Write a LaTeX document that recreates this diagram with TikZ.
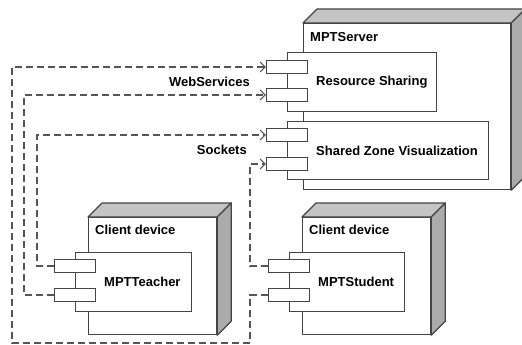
\documentclass[tikz,border=0pt]{standalone}
\usepackage{fontspec}
\setmainfont{Liberation Sans}
\usetikzlibrary{arrows.meta, calc}

\definecolor{edgegray}{HTML}{444444}
\definecolor{dashgray}{HTML}{555555}
\definecolor{topgray}{HTML}{C4C4C4}
\definecolor{sidegray}{HTML}{ABABAB}

\begin{document}
\begin{tikzpicture}[x=1pt, y=-1pt,
    device/.style={draw=edgegray, fill=white, line width=1.2pt, anchor=north west, inner sep=0pt},
    comp/.style={draw=edgegray, fill=white, line width=1.1pt, anchor=north west, inner sep=0pt},
    port/.style={draw=edgegray, fill=white, line width=1.1pt, minimum width=41pt, minimum height=13pt, inner sep=0pt},
    lbl/.style={font=\fontsize{13}{15}\selectfont\bfseries, inner sep=0pt},
    link/.style={draw=dashgray, line width=1.2pt, dash pattern=on 7pt off 4pt, -{Straight Barb[length=5pt, width=10pt]}}
]
    \useasboundingbox (0,0) rectangle (522,345);

    % Nodes (devices)
    \node[device, minimum width=207pt, minimum height=166pt] (server) at (303,23) {};
    \node[device, minimum width=128pt, minimum height=117pt] (teacherdev) at (88,217) {};
    \node[device, minimum width=128pt, minimum height=117pt] (studentdev) at (302,217) {};

    % 3D sides of the nodes
    \foreach \d in {server, teacherdev, studentdev} {
        \filldraw[fill=topgray, draw=edgegray, line width=1.2pt, line join=round]
            (\d.north west) -- ++(14,-14) -- ($(\d.north east)+(14,-14)$) -- (\d.north east) -- cycle;
        \filldraw[fill=sidegray, draw=edgegray, line width=1.2pt, line join=round]
            (\d.north east) -- ++(14,-14) -- ($(\d.south east)+(14,-14)$) -- (\d.south east) -- cycle;
    }

    \node[lbl, anchor=base west] (servername) at ($(server.north west)+(7,19)$) {MPTServer};
    \node[lbl, anchor=base west] (teachername) at ($(teacherdev.north west)+(7,17)$) {Client device};
    \node[lbl, anchor=base west] (studentname) at ($(studentdev.north west)+(7,17)$) {Client device};

    % Components
    \node[comp, minimum width=149pt, minimum height=59pt] (rs) at (287,52) {};
    \node[comp, minimum width=201pt, minimum height=58pt] (szv) at (287,121) {};
    \node[comp, minimum width=116pt, minimum height=59pt] (tcomp) at (75,252) {};
    \node[comp, minimum width=115pt, minimum height=59pt] (scomp) at (289,252) {};

    \node[lbl, anchor=west] (rslabel) at ($(rs.west)+(29,0)$) {Resource Sharing};
    \node[lbl, anchor=west] (szvlabel) at ($(szv.west)+(29,0)$) {Shared Zone Visualization};
    \node[lbl, anchor=west] (tlabel) at ($(tcomp.west)+(29,0)$) {MPTTeacher};
    \node[lbl, anchor=west] (slabel) at ($(scomp.west)+(29,0)$) {MPTStudent};

    % Ports
    \node[port] (rp1) at (287,67) {};
    \node[port] (rp2) at (287,95) {};
    \node[port] (zp1) at (287,135) {};
    \node[port] (zp2) at (287,164) {};
    \node[port] (tp1) at (75,266) {};
    \node[port] (tp2) at (75,295) {};
    \node[port] (sp1) at (289,266) {};
    \node[port] (sp2) at (289,295) {};

    \node[lbl, anchor=east] (wslabel) at (250,82) {WebServices};
    \node[lbl, anchor=east] (socklabel) at (247,150) {Sockets};

    % Lanes for the dashed connections
    \coordinate (laneA) at (12,343);
    \coordinate (laneB) at (24,0);
    \coordinate (laneC) at (37,0);
    \coordinate (laneD) at (250,0);

    \draw[link] (sp2.west) -| (laneD |- laneA) -- (laneA) |- (rp1.west);
    \draw[link] (tp2.west) -| (laneB |- rp2.west) -- (rp2.west);
    \draw[link] (tp1.west) -| (laneC |- zp1.west) -- (zp1.west);
    \draw[link] (sp1.west) -| (laneD |- zp2.west) -- (zp2.west);
\end{tikzpicture}
\end{document}
